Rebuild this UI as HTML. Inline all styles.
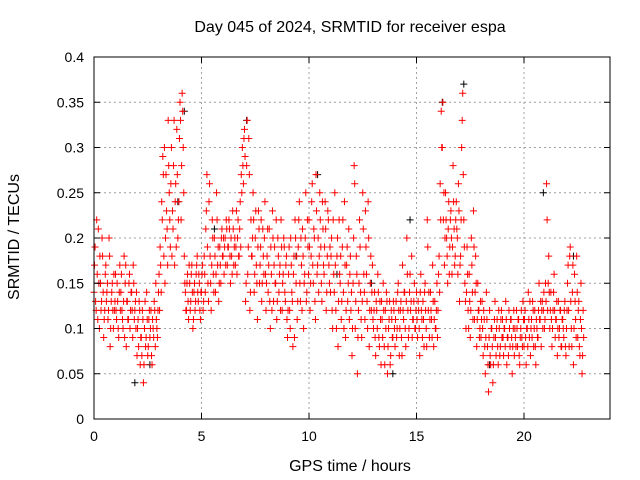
<!DOCTYPE html>
<html><head><meta charset="utf-8"><style>
body{margin:0;background:#fff}
svg{display:block;font-family:"Liberation Sans",sans-serif}
</style></head><body>
<svg id="chart" width="640" height="480" viewBox="0 0 640 480">
<rect width="640" height="480" fill="#fff"/>
<text x="350" y="32" font-size="16" text-anchor="middle">Day 045 of 2024, SRMTID for receiver espa</text>
<text transform="translate(19,237) rotate(-90)" font-size="16" text-anchor="middle">SRMTID / TECUs</text>
<text x="350" y="471" font-size="16" text-anchor="middle">GPS time / hours</text>
<g id="grid"></g>
<g id="marks"></g>
<g id="axes"></g>
</svg>
<script>
const xTicks=[0,5,10,15,20];
const yTicks=[0,0.05,0.1,0.15,0.2,0.25,0.3,0.35,0.4];
const yTickLabels=["0","0.05","0.1","0.15","0.2","0.25","0.3","0.35","0.4"];
const sampleStepHours=0.05;
const redValues=[
.14,.19,.12,.16,.21,.10,.15,.13,.18,.09,.12,.17,.14,.11,.20,.08,.13,.15,.10,.12,
.16,.11,.13,.09,.17,.14,.12,.10,.18,.15,.08,.13,.11,.16,.12,.14,.09,.15,.12,.10,
.07,.11,.13,.06,.09,.12,.04,.10,.08,.14,.07,.11,.09,.12,.06,.10,.13,.08,.11,.09,
.14,.12,.17,.24,.29,.18,.15,.27,.21,.33,.25,.19,.30,.23,.28,.17,.26,.32,.20,.24,
.35,.22,.36,.30,.18,.14,.12,.16,.11,.15,.13,.17,.10,.14,.12,.16,.18,.13,.15,.11,
.14,.17,.13,.16,.21,.27,.15,.24,.18,.12,.22,.16,.20,.14,.25,.17,.13,.19,.15,.21,
.18,.16,.20,.22,.17,.19,.21,.15,.18,.23,.17,.20,.19,.16,.22,.18,.24,.27,.30,.26,
.32,.13,.28,.16,.31,.12,.22,.18,.25,.14,.20,.17,.11,.23,.15,.19,.13,.21,.16,.24,
.12,.18,.14,.21,.10,.16,.23,.13,.19,.15,.11,.20,.14,.17,.22,.12,.16,.19,.13,.18,
.09,.16,.12,.20,.14,.08,.18,.22,.15,.11,.19,.24,.13,.17,.21,.10,.16,.25,.14,.19,
.22,.12,.18,.26,.15,.20,.11,.23,.17,.14,.25,.19,.13,.21,.16,.24,.12,.18,.22,.15,
.14,.20,.10,.16,.25,.12,.18,.08,.22,.15,.11,.19,.14,.24,.09,.17,.13,.21,.16,.12,
.07,.15,.28,.10,.18,.05,.12,.22,.14,.09,.25,.16,.11,.19,.13,.24,.08,.15,.12,.17,
.10,.14,.07,.12,.16,.09,.13,.06,.11,.15,.08,.12,.14,.05,.10,.13,.07,.11,.09,.12,
.08,.13,.10,.15,.07,.12,.09,.17,.11,.14,.08,.20,.12,.10,.16,.13,.09,.11,.15,.10,
.14,.09,.12,.07,.16,.11,.13,.08,.15,.10,.22,.12,.09,.14,.11,.17,.08,.13,.10,.15,
.12,.18,.26,.34,.30,.22,.17,.25,.20,.15,.24,.19,.23,.16,.28,.21,.18,.24,.20,.26,
.13,.18,.30,.36,.22,.15,.10,.19,.12,.16,.09,.20,.14,.23,.11,.18,.08,.15,.12,.10,
.09,.13,.07,.11,.05,.14,.08,.03,.12,.06,.10,.04,.09,.13,.07,.11,.06,.10,.08,.12,
.11,.07,.10,.13,.06,.09,.12,.08,.11,.05,.10,.07,.09,.12,.08,.11,.06,.10,.09,.13,
.08,.12,.06,.10,.14,.09,.07,.11,.13,.08,.12,.06,.10,.09,.15,.11,.08,.13,.12,.10,
.15,.26,.12,.18,.10,.14,.08,.12,.16,.09,.11,.07,.13,.10,.12,.08,.11,.09,.13,.07,
.12,.17,.08,.19,.10,.14,.06,.16,.11,.18,.09,.13,.07,.15,.05,.12];
const redValues2=[
.17,.13,.22,.11,.15,.18,.12,.20,.14,.11,.16,.13,.15,.12,.18,.10,.14,.12,.16,.13,
.12,.15,.10,.14,.12,.16,.11,.13,.09,.17,.13,.11,.15,.10,.14,.12,.17,.11,.13,.14,
.10,.08,.12,.09,.07,.11,.06,.13,.09,.11,.08,.12,.10,.07,.11,.09,.12,.15,.10,.12,
.16,.19,.14,.22,.27,.30,.20,.23,.17,.28,.22,.26,.18,.21,.33,.24,.19,.27,.22,.31,
.33,.28,.34,.25,.15,.12,.15,.13,.17,.12,.16,.14,.11,.15,.13,.17,.14,.16,.12,.14,
.16,.12,.18,.14,.23,.19,.13,.26,.15,.17,.20,.14,.18,.16,.22,.19,.15,.17,.20,.18,
.20,.19,.17,.21,.19,.22,.18,.20,.16,.21,.19,.17,.23,.20,.18,.21,.19,.25,.28,.31,
.29,.15,.33,.19,.27,.14,.18,.20,.22,.16,.23,.15,.19,.21,.17,.22,.15,.18,.20,.16,
.15,.21,.17,.13,.19,.12,.20,.17,.15,.22,.13,.18,.16,.12,.19,.15,.20,.14,.17,.11,
.12,.19,.10,.17,.13,.16,.09,.20,.18,.13,.22,.15,.20,.12,.18,.15,.20,.13,.22,.16,
.19,.15,.24,.17,.21,.13,.27,.16,.20,.18,.22,.15,.24,.17,.19,.21,.14,.23,.17,.19,
.18,.12,.22,.14,.17,.10,.20,.13,.16,.18,.13,.22,.10,.17,.12,.19,.15,.11,.18,.14,
.10,.20,.26,.13,.16,.09,.15,.19,.11,.13,.21,.14,.23,.16,.10,.20,.12,.18,.14,.11,
.12,.09,.13,.10,.14,.08,.11,.13,.09,.12,.06,.10,.13,.08,.11,.06,.12,.09,.13,.10,
.11,.09,.14,.12,.10,.13,.07,.12,.14,.10,.13,.16,.09,.14,.12,.18,.11,.13,.10,.12,
.11,.13,.10,.14,.12,.09,.11,.14,.12,.08,.19,.14,.11,.12,.09,.13,.11,.10,.12,.09,
.16,.14,.22,.30,.35,.25,.20,.22,.18,.21,.16,.22,.20,.19,.24,.17,.22,.21,.16,.23,
.17,.22,.33,.27,.19,.13,.14,.16,.10,.13,.12,.17,.11,.19,.14,.15,.11,.12,.09,.13,
.11,.10,.12,.08,.09,.11,.06,.09,.07,.10,.08,.06,.11,.09,.10,.08,.12,.07,.11,.09,
.09,.10,.08,.11,.09,.07,.10,.11,.09,.08,.12,.10,.08,.10,.11,.07,.09,.12,.08,.11,
.11,.09,.10,.08,.11,.13,.10,.09,.12,.10,.08,.11,.09,.12,.11,.13,.12,.10,.14,.11,
.13,.22,.15,.14,.12,.11,.10,.14,.12,.11,.13,.10,.09,.12,.08,.11,.10,.12,.08,.10,
.15,.12,.18,.13,.08,.17,.10,.13,.09,.14,.12,.08,.11,.10,.07,.09];
const blackTimes=[0.3,1.9,2.6,3.9,4.2,5.6,7.1,9.4,10.4,11.3,12.9,13.9,14.7,16.2,17.2,18.4,20.9,22.3];
const blackValues=[0.15,0.04,0.06,0.24,0.34,0.21,0.33,0.18,0.27,0.16,0.15,0.05,0.22,0.35,0.37,0.06,0.25,0.18];

const L=94,R=610,T=57,B=419,XMAX=24,YMAX=0.4;
const xs=v=>L+(R-L)*v/XMAX;
const ys=v=>B-(B-T)*v/YMAX;
const NS="http://www.w3.org/2000/svg";
function mk(tag,attrs,parent){const e=document.createElementNS(NS,tag);for(const k in attrs)e.setAttribute(k,attrs[k]);parent.appendChild(e);return e;}
const grid=document.getElementById('grid'),marks=document.getElementById('marks'),axes=document.getElementById('axes');
xTicks.forEach(t=>{const x=xs(t);
 if(t>0){const g=mk('line',{x1:x,y1:T,x2:x,y2:B,stroke:'#a0a0a0','stroke-dasharray':'2,3'},grid);
 
 }
 const tk=mk('path',{d:`M${x},${B}v-6M${x},${T}v6`,stroke:'#000'},axes);
 
 
 const lb=mk('text',{x:x,y:B+22,'font-size':14,'text-anchor':'middle'},axes);lb.textContent=t;
 
 
});
yTicks.forEach((t,i)=>{const y=ys(t);
 if(t>0&&t<YMAX){const g=mk('line',{x1:L,y1:y,x2:R,y2:y,stroke:'#a0a0a0','stroke-dasharray':'2,3'},grid);
 
 }
 const tk=mk('path',{d:`M${L},${y}h6M${R},${y}h-6`,stroke:'#000'},axes);
 
 
 const lb=mk('text',{x:L-10,y:y+5,'font-size':14,'text-anchor':'end'},axes);lb.textContent=yTickLabels[i];
 
 
});
const frame=mk('rect',{x:L,y:T,width:R-L,height:B-T,fill:'none',stroke:'#000'},axes);


function plus(x,y,c){const p=mk('path',{d:`M${x-3.5},${y}h7M${x},${y-3.5}v7`,stroke:c,'stroke-width':1},marks);return p;}
blackValues.forEach((v,i)=>{const p=plus(xs(blackTimes[i]),ys(v),'#000');
 
 });
redValues.forEach((v,i)=>{const p=plus(xs(i*sampleStepHours),ys(v),'#ff0000');
 
 });
redValues2.forEach((v,i)=>{const p=plus(xs(i*sampleStepHours+0.025),ys(v),'#ff0000');
 
 });
</script>
</body></html>
